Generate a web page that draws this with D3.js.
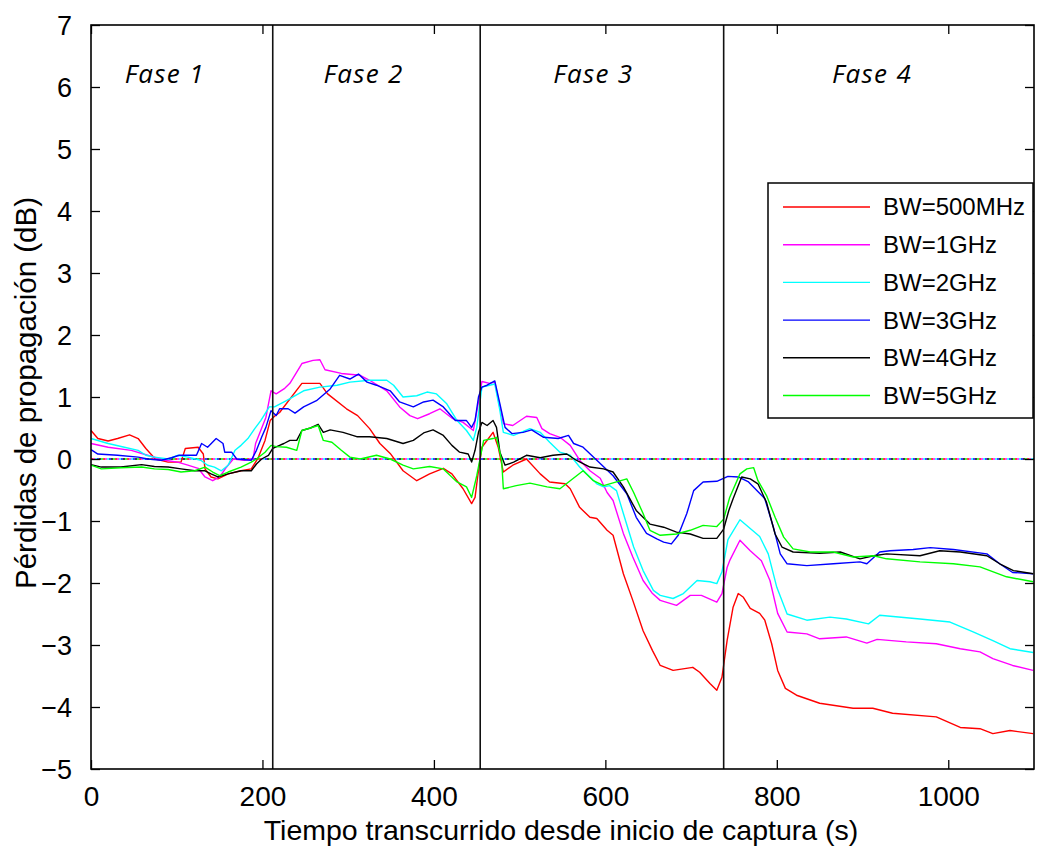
<!DOCTYPE html>
<html><head><meta charset="utf-8">
<script src="https://cdn.jsdelivr.net/npm/d3@7"></script>
<style>
html,body{margin:0;padding:0;background:#fff;}
svg text{font-family:"Liberation Sans",Arial,sans-serif;fill:#000;}
</style></head>
<body><svg id="c" width="1054" height="848"></svg>
<script>
// ---- data ----
const seriesNames = ["BW=500MHz","BW=1GHz","BW=2GHz","BW=3GHz","BW=4GHz","BW=5GHz"];
const seriesColors = ["#ff0000","#ff00ff","#00ffff","#0000ff","#000000","#00ff00"];
const xTicks = [0,200,400,600,800,1000];
const yTicks = [-5,-4,-3,-2,-1,0,1,2,3,4,5,6,7];
const phaseBounds = [212, 454, 738];
const phaseLabels = ["Fase 1","Fase 2","Fase 3","Fase 4"];
const phaseLabelT = [86, 318, 586, 911];

const bw500 = [[0,0.46],[8,0.33],[20,0.29],[31,0.33],[45,0.39],[55,0.33],[64,0.17],[75,0.0],[90,-0.05],[105,-0.05],[110,0.17],[125,0.19],[131,0.08],[133,-0.16],[140,-0.29],[148,-0.32],[160,-0.24],[175,-0.19],[187,-0.16],[195,0.02],[203,0.3],[209,0.62],[215,0.7],[220,0.75],[246,1.22],[267,1.22],[276,1.05],[298,0.81],[311,0.7],[325,0.49],[337,0.25],[349,0.09],[364,-0.19],[380,-0.35],[395,-0.24],[411,-0.15],[421,-0.24],[434,-0.48],[444,-0.72],[448,-0.62],[451,-0.29],[456,0.19],[469,0.43],[475,0.19],[481,-0.21],[492,-0.1],[508,0.0],[524,-0.24],[535,-0.37],[553,-0.4],[559,-0.48],[570,-0.78],[582,-0.94],[590,-0.96],[602,-1.15],[609,-1.23],[621,-1.85],[632,-2.28],[644,-2.77],[655,-3.09],[664,-3.33],[679,-3.41],[702,-3.36],[710,-3.44],[722,-3.62],[730,-3.73],[736,-3.52],[742,-2.93],[749,-2.39],[755,-2.17],[761,-2.23],[769,-2.41],[780,-2.49],[786,-2.6],[794,-2.98],[801,-3.41],[810,-3.7],[823,-3.81],[850,-3.94],[889,-4.02],[912,-4.02],[935,-4.1],[986,-4.16],[1014,-4.33],[1037,-4.35],[1052,-4.43],[1072,-4.38],[1099,-4.43]];
const bw1g = [[0,0.25],[20,0.19],[47,0.14],[66,0.06],[86,-0.02],[101,-0.05],[113,-0.1],[125,-0.15],[133,-0.29],[142,-0.35],[150,-0.29],[157,-0.15],[166,0],[179,-0.02],[189,0],[192,0.25],[198,0.46],[204,0.67],[210,1.1],[216,1.05],[226,1.14],[232,1.22],[246,1.54],[259,1.59],[267,1.6],[273,1.44],[292,1.38],[314,1.35],[325,1.27],[345,1.1],[360,0.84],[372,0.7],[381,0.65],[395,0.73],[407,0.81],[422,0.65],[434,0.59],[446,0.46],[451,0.84],[456,1.25],[465,1.22],[471,1.24],[477,0.84],[481,0.57],[492,0.54],[508,0.69],[520,0.67],[526,0.49],[535,0.41],[547,0.35],[559,0.22],[570,-0.02],[582,-0.19],[594,-0.31],[602,-0.54],[609,-0.67],[621,-1.2],[632,-1.58],[644,-1.96],[655,-2.17],[664,-2.28],[683,-2.36],[699,-2.2],[712,-2.2],[730,-2.31],[736,-2.17],[742,-1.75],[745,-1.64],[757,-1.31],[769,-1.48],[782,-1.64],[792,-1.96],[801,-2.49],[812,-2.79],[835,-2.82],[850,-2.9],[881,-2.87],[905,-2.97],[917,-2.91],[951,-2.95],[986,-2.98],[1014,-3.06],[1037,-3.11],[1052,-3.22],[1075,-3.33],[1099,-3.41]];
const bw2g = [[0,0.33],[20,0.25],[39,0.19],[55,0.14],[64,0.06],[74,0.03],[90,0],[101,0.06],[113,0.03],[128,-0.02],[136,-0.1],[144,-0.13],[152,-0.19],[160,-0.1],[168,0.14],[175,0.22],[183,0.33],[191,0.49],[198,0.62],[208,0.84],[214,0.84],[228,0.94],[248,1.1],[267,1.16],[287,1.19],[302,1.24],[325,1.27],[345,1.27],[353,1.19],[364,1.0],[380,1.02],[392,1.08],[403,1.05],[415,0.89],[427,0.62],[438,0.46],[446,0.3],[450,0.51],[456,1.16],[465,1.19],[471,1.21],[477,0.78],[481,0.43],[493,0.38],[512,0.49],[524,0.43],[535,0.27],[547,0.11],[559,0.06],[570,-0.13],[582,-0.29],[590,-0.4],[598,-0.45],[605,-0.43],[613,-0.51],[621,-0.88],[633,-1.42],[644,-1.8],[656,-2.12],[664,-2.2],[679,-2.25],[691,-2.17],[707,-1.96],[722,-1.98],[730,-2.01],[736,-1.82],[743,-1.3],[757,-0.98],[769,-1.12],[780,-1.25],[790,-1.53],[800,-2.07],[812,-2.5],[835,-2.6],[862,-2.55],[881,-2.58],[907,-2.66],[920,-2.52],[967,-2.58],[1002,-2.63],[1029,-2.79],[1052,-2.93],[1072,-3.06],[1099,-3.12]];
const bw3g = [[0,0.15],[8,0.08],[31,0.06],[55,0.03],[66,0],[82,-0.02],[94,0.02],[103,0.06],[123,0.06],[129,0.25],[136,0.19],[146,0.33],[154,0.25],[156,0.11],[164,0.11],[170,0],[187,-0.02],[193,0.14],[199,0.35],[204,0.51],[210,0.78],[216,0.7],[220,0.81],[230,0.81],[238,0.74],[248,0.84],[263,0.94],[279,1.13],[290,1.35],[302,1.29],[312,1.37],[322,1.24],[333,1.19],[349,1.1],[360,0.92],[376,0.84],[388,0.92],[399,0.95],[411,0.84],[425,0.62],[438,0.62],[444,0.51],[448,0.62],[452,1.0],[456,1.16],[462,1.19],[471,1.26],[477,0.89],[483,0.51],[491,0.41],[504,0.43],[514,0.47],[528,0.35],[545,0.33],[557,0.38],[563,0.25],[574,0.19],[590,-0.02],[609,-0.27],[625,-0.56],[636,-0.94],[648,-1.2],[660,-1.29],[668,-1.34],[677,-1.37],[685,-1.23],[695,-0.88],[703,-0.51],[714,-0.37],[730,-0.36],[743,-0.28],[755,-0.29],[767,-0.37],[786,-0.64],[796,-1.1],[804,-1.53],[812,-1.69],[835,-1.72],[866,-1.69],[897,-1.66],[905,-1.69],[920,-1.5],[932,-1.48],[959,-1.46],[979,-1.43],[1006,-1.46],[1045,-1.53],[1060,-1.69],[1075,-1.83],[1099,-1.85]];
const bw4g = [[0,-0.09],[12,-0.13],[35,-0.13],[59,-0.09],[74,-0.12],[90,-0.13],[105,-0.16],[121,-0.19],[133,-0.19],[140,-0.24],[148,-0.29],[160,-0.24],[175,-0.19],[187,-0.19],[193,-0.08],[199,0],[207,0.06],[212,0.17],[220,0.22],[225,0.25],[232,0.3],[240,0.3],[246,0.46],[256,0.5],[265,0.56],[271,0.43],[279,0.47],[294,0.43],[310,0.36],[325,0.36],[345,0.33],[364,0.25],[376,0.3],[388,0.42],[399,0.47],[411,0.38],[421,0.22],[430,0.11],[440,0.08],[444,-0.05],[448,0.14],[452,0.43],[456,0.59],[462,0.54],[469,0.62],[473,0.51],[477,0.11],[483,-0.1],[493,-0.05],[508,0.06],[524,0.02],[539,0.06],[555,0.08],[566,-0.02],[582,-0.13],[598,-0.16],[609,-0.21],[621,-0.45],[636,-0.83],[652,-1.05],[668,-1.1],[683,-1.18],[699,-1.21],[714,-1.28],[730,-1.28],[738,-1.13],[744,-0.83],[749,-0.64],[759,-0.29],[769,-0.32],[778,-0.4],[788,-0.7],[798,-1.21],[806,-1.42],[819,-1.5],[850,-1.52],[874,-1.5],[897,-1.61],[913,-1.56],[928,-1.53],[967,-1.56],[990,-1.48],[1014,-1.5],[1045,-1.56],[1060,-1.69],[1076,-1.8],[1099,-1.85]];
const bw5g = [[0,-0.1],[12,-0.16],[35,-0.14],[59,-0.13],[74,-0.16],[90,-0.17],[105,-0.21],[121,-0.19],[133,-0.13],[142,-0.21],[150,-0.27],[160,-0.21],[175,-0.13],[187,-0.05],[193,0],[203,0.11],[210,0.22],[216,0.2],[228,0.19],[240,0.14],[246,0.46],[256,0.5],[265,0.54],[271,0.3],[281,0.27],[292,0.14],[302,0.03],[314,0],[333,0.06],[349,0],[364,-0.1],[376,-0.16],[395,-0.12],[411,-0.16],[427,-0.37],[438,-0.45],[444,-0.62],[450,-0.27],[458,0.3],[469,0.33],[473,0.35],[479,-0.02],[481,-0.48],[496,-0.43],[512,-0.39],[532,-0.45],[547,-0.48],[559,-0.35],[574,-0.19],[586,-0.35],[598,-0.43],[613,-0.37],[625,-0.32],[633,-0.54],[644,-0.88],[652,-1.15],[664,-1.23],[683,-1.21],[699,-1.15],[714,-1.07],[730,-1.09],[738,-0.97],[745,-0.62],[757,-0.24],[765,-0.16],[773,-0.14],[778,-0.35],[788,-0.59],[798,-0.94],[808,-1.26],[819,-1.45],[839,-1.5],[866,-1.5],[889,-1.58],[913,-1.56],[928,-1.61],[967,-1.66],[1006,-1.69],[1037,-1.74],[1068,-1.9],[1099,-1.98]];
const seriesData = [bw500, bw1g, bw2g, bw3g, bw4g, bw5g];

// ---- layout ----
const L = 91, R = 1034, T = 25, B = 769;
const svg = d3.select("#c");
svg.append("rect").attr("width",1054).attr("height",848).attr("fill","#fff");
const x = d3.scaleLinear().domain([0,1100]).range([L,R]);
const y = d3.scaleLinear().domain([-5,7]).range([B,T]);

const g = svg.append("g");
// zero reference dotted lines (one per series, offset dashes)
seriesColors.forEach((c,i)=>{
  g.append("line").attr("x1",x(0)).attr("x2",x(1100)).attr("y1",y(0)).attr("y2",y(0))
   .attr("stroke",c).attr("stroke-width",1.3).attr("stroke-dasharray","2,10")
   .attr("stroke-dashoffset",-i*2);
});

// series lines
const line = d3.line().x(d=>x(d[0])).y(d=>y(d[1]));
seriesData.forEach((d,i)=>{
  g.append("path").datum(d).attr("d",line).attr("fill","none")
   .attr("stroke",seriesColors[i]).attr("stroke-width",1.4).attr("stroke-linejoin","round");
});

// phase boundaries
phaseBounds.forEach(t=>{
  svg.append("line").attr("x1",x(t)).attr("x2",x(t)).attr("y1",T).attr("y2",B)
   .attr("stroke","#111").attr("stroke-width",1.6);
});
phaseLabels.forEach((s,i)=>{
  svg.append("text").attr("x",x(phaseLabelT[i])).attr("y",y(6.06))
   .attr("text-anchor","middle").style("font-family","'Open Sans',sans-serif")
   .style("font-style","italic").style("font-size","26px").style("letter-spacing","1.3px").text(s);
});

// axes (ticks inward on all sides)
const tl = 9;
const axB = svg.append("g").attr("transform",`translate(0,${B})`)
  .call(d3.axisBottom(x).tickValues(xTicks).tickSize(-tl).tickPadding(tl+8).tickFormat(d3.format("d")));
const axT = svg.append("g").attr("transform",`translate(0,${T})`)
  .call(d3.axisTop(x).tickValues(xTicks).tickSize(-tl).tickFormat(""));
const axL = svg.append("g").attr("transform",`translate(${L},0)`)
  .call(d3.axisLeft(y).tickValues(yTicks).tickSize(-tl).tickPadding(tl+10).tickFormat(d3.format("d")));
const axR = svg.append("g").attr("transform",`translate(${R},0)`)
  .call(d3.axisRight(y).tickValues(yTicks).tickSize(-tl).tickFormat(""));
[axB,axT,axL,axR].forEach(a=>{
  a.select(".domain").remove();
  a.selectAll(".tick line").attr("stroke","#000").attr("stroke-width",1.3);
  a.selectAll("text").style("font-size","27px").attr("fill","#000")
   .style("font-family","'Liberation Sans',Arial,sans-serif");
});
axB.selectAll("text").style("font-size","28px");
axL.selectAll("text").attr("dy","0.35em");
svg.append("rect").attr("x",L).attr("y",T).attr("width",R-L).attr("height",B-T)
  .attr("fill","none").attr("stroke","#000").attr("stroke-width",1.6);

// axis titles
svg.append("text").attr("x",561).attr("y",840).attr("text-anchor","middle")
  .style("font-size","28.5px").text("Tiempo transcurrido desde inicio de captura (s)");
svg.append("text").attr("transform",`translate(36,393) rotate(-90)`).attr("text-anchor","middle")
  .style("font-size","29.5px").text("Pérdidas de propagación (dB)");

// legend
const lg = svg.append("g");
lg.append("rect").attr("x",768).attr("y",183).attr("width",265).attr("height",235)
  .attr("fill","#fff").attr("stroke","#000").attr("stroke-width",1.5);
seriesNames.forEach((n,i)=>{
  const yy = 207 + i*37.7;
  lg.append("line").attr("x1",783).attr("x2",870).attr("y1",yy).attr("y2",yy)
    .attr("stroke",seriesColors[i]).attr("stroke-width",1.4);
  lg.append("text").attr("x",883).attr("y",yy).attr("dy","0.35em")
    .style("font-size","24px").text(n);
});
</script></body></html>
